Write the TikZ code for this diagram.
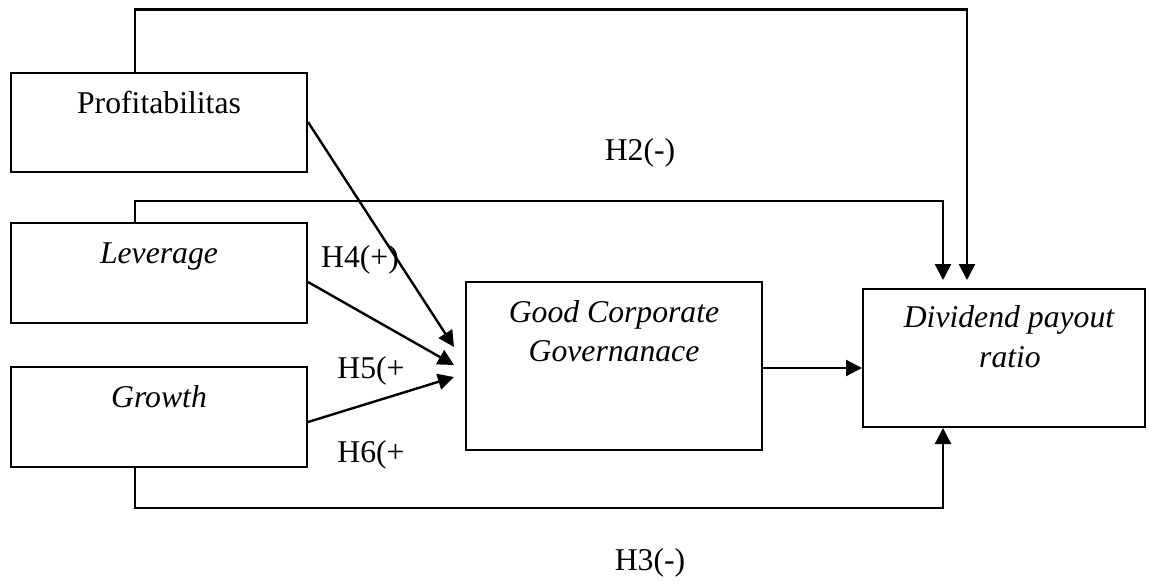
\documentclass[tikz,border=0pt]{standalone}
\usepackage{fontspec}
\setmainfont{Liberation Serif}
\usetikzlibrary{arrows.meta}
\begin{document}
\begin{tikzpicture}[x=1pt,y=-1pt,
  box/.style={draw, line width=2pt, inner sep=0pt},
  lab/.style={anchor=base, inner sep=0pt, font=\fontsize{31.7}{38}\selectfont},
  conn/.style={line width=2.4pt},
  arr/.style={conn, -{Triangle[length=16pt,width=16pt]}}]
\useasboundingbox (0,0) rectangle (1152,582);
% boxes
\node[box, minimum width=296pt, minimum height=99pt]  (p)   at (159,122.5) {};
\node[box, minimum width=296pt, minimum height=100pt] (l)   at (159,273) {};
\node[box, minimum width=296pt, minimum height=100pt] (g)   at (159,417) {};
\node[box, minimum width=296pt, minimum height=168pt] (gcg) at (614,366) {};
\node[box, minimum width=282pt, minimum height=138pt] (d)   at (1004,358) {};
% box texts
\node[lab] (pt)  at (159,113) {Profitabilitas};
\node[lab] (lt)  at (159,263) {\itshape Leverage};
\node[lab] (gt)  at (159,407) {\itshape Growth};
\node[lab] (gc1) at (614,322) {\itshape Good Corporate};
\node[lab] (gc2) at (614,361) {\itshape Governanace};
\node[lab] (d1)  at (1009,327) {\itshape Dividend payout};
\node[lab] (d2)  at (1010,367) {\itshape ratio};
% hypothesis labels
\node[lab] (h2) at (640,160) {H2(-)};
\node[lab] (h4) at (360,267) {H4(+)};
\node[lab] (h5) at (371,378) {H5(+};
\node[lab] (h6) at (371,462) {H6(+};
\node[lab] (h3) at (650,570) {H3(-)};
% routing points
\coordinate (c1) at (135,9.5);  \coordinate (c2) at (967,9.5);  \coordinate (c3) at (967,280);
\coordinate (l1) at (135,201);  \coordinate (l2) at (943,201);  \coordinate (l3) at (943,280);
\coordinate (g1) at (135,508);  \coordinate (g2) at (943,508);
\coordinate (a1) at (454,347);  \coordinate (a2) at (454,365);  \coordinate (a3) at (454,377);
% connectors
\draw[arr] (p.north -| c1) -- (c1) -- (c2) -- (c3);
\draw[arr] (l.north -| l1) -- (l1) -- (l2) -- (l3);
\draw[arr] (g.south -| g1) -- (g1) -- (g2) -- (d.south -| g2);
\draw[arr] (p.east |- 0,122) -- (a1);
\draw[arr] (l.east |- 0,282) -- (a2);
\draw[arr] (g.east |- 0,422) -- (a3);
\draw[arr] (gcg.east |- 0,368) -- (d.west |- 0,368);
\end{tikzpicture}
\end{document}
